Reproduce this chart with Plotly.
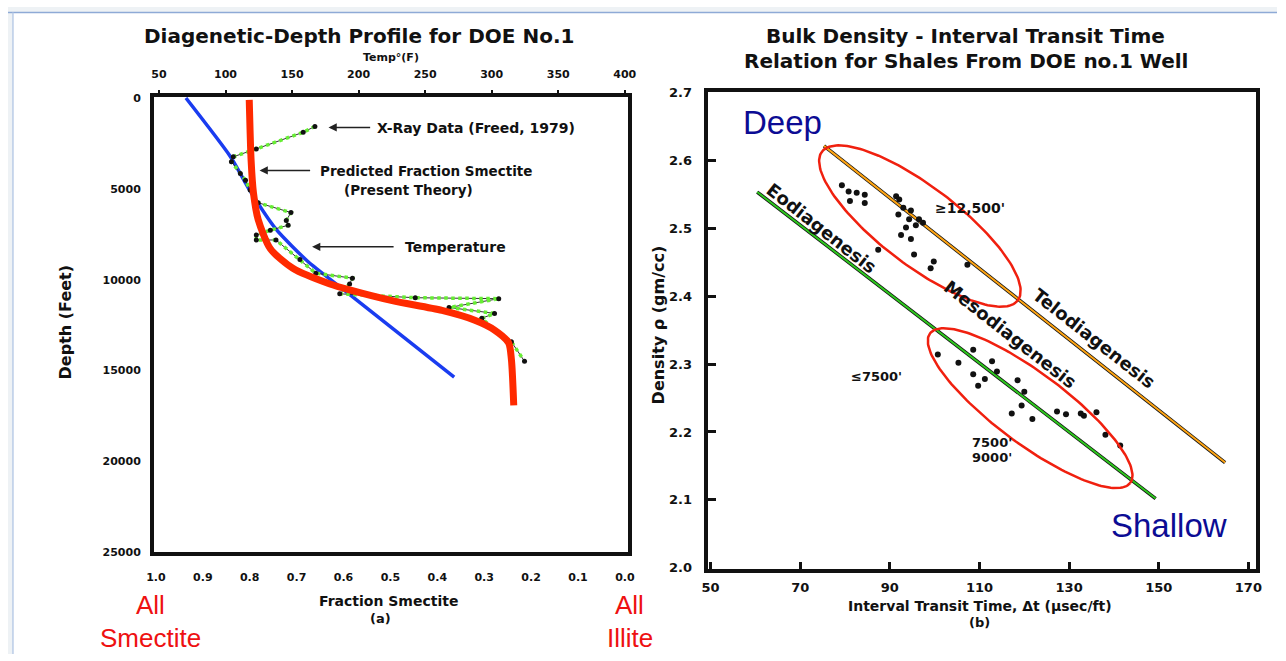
import numpy as np
import plotly.graph_objects as go

W, H = 1286, 661

# ---------------- Left panel data: Diagenetic-Depth profile ----------------
frac_ticks = [1.0, 0.9, 0.8, 0.7, 0.6, 0.5, 0.4, 0.3, 0.2, 0.1, 0.0]
frac_labels = ["1.0", "0.9", "0.8", "0.7", "0.6", "0.5", "0.4", "0.3", "0.2", "0.1", "0.0"]
temp_ticks = [50, 100, 150, 200, 250, 300, 350, 400]
depth_ticks = [0, 5000, 10000, 15000, 20000, 25000]

# Temperature profile (blue)
blue_frac = [0.936, 0.841, 0.799, 0.744, 0.676, 0.602, 0.364]
blue_depth = [0, 3233, 5119, 7220, 8998, 10507, 15356]

# Predicted fraction smectite (thick red)
red_frac = [0.801, 0.797, 0.792, 0.782, 0.756, 0.708, 0.629, 0.587, 0.496,
            0.390, 0.320, 0.278, 0.248, 0.242, 0.237]
red_depth = [100, 3448, 5226, 6681, 8298, 9375, 10237, 10560, 11153,
             11692, 12231, 12770, 13470, 14386, 16918]

# X-ray data (Freed, 1979) (green dotted)
xray_frac = [0.661, 0.686, 0.786, 0.835, 0.839, 0.820, 0.809, 0.799, 0.782, 0.712,
             0.722, 0.718, 0.756, 0.786, 0.786, 0.744, 0.693, 0.659, 0.581, 0.587,
             0.608, 0.447, 0.269, 0.375, 0.278, 0.305, 0.278, 0.242, 0.214]
xray_depth = [1563, 1886, 2802, 3233, 3502, 4149, 4526, 5065, 5765, 6304,
              6735, 7004, 7274, 7543, 7813, 7813, 8890, 9645, 9914, 10237,
              10776, 10992, 11045, 11530, 11854, 12123, 12770, 13416, 14494]

# ---------------- Right panel data: Bulk density vs transit time ----------------
itt_ticks = [50, 70, 90, 110, 130, 150, 170]
rho_ticks = [2.0, 2.1, 2.2, 2.3, 2.4, 2.5, 2.6, 2.7]

deep_t = [79.3, 80.8, 82.6, 84.4, 81.1, 84.4, 91.4, 92.1, 93.0, 94.7, 91.9, 94.3,
          96.5, 97.4, 93.6, 95.8, 92.5, 94.7, 87.4, 95.4, 99.8, 99.1, 107.3]
deep_rho = [2.563, 2.554, 2.552, 2.549, 2.540, 2.537, 2.547, 2.542, 2.530, 2.526,
            2.520, 2.513, 2.513, 2.508, 2.501, 2.504, 2.490, 2.484, 2.468, 2.461,
            2.451, 2.441, 2.446]

shallow_t = [100.7, 108.6, 105.3, 112.8, 113.9, 108.6, 111.2, 109.7, 118.5, 120.0,
             119.4, 117.2, 121.8, 127.3, 129.3, 132.6, 133.3, 136.1, 138.1, 141.4]
shallow_rho = [2.314, 2.321, 2.302, 2.304, 2.289, 2.285, 2.278, 2.268, 2.276, 2.259,
               2.239, 2.227, 2.219, 2.230, 2.226, 2.227, 2.224, 2.229, 2.196, 2.180]

telo_t = [75.3, 164.8]
telo_rho = [2.621, 2.155]
eo_t = [60.4, 149.3]
eo_rho = [2.553, 2.102]

# ---------------- Layout geometry ----------------
L_XD = [148 / W, 628 / W]
L_YD = [1 - 557 / H, 1 - 92 / H]
R_XD = [709 / W, 1265 / W]
R_YD = [1 - 574 / H, 1 - 87 / H]
R_XR = [49.34, 171.76]
R_YR = [1.9986, 2.7]
T_XR = [46.3, 402.2]


def px(x):
    return x / W


def py(y):
    return 1 - y / H


FONT = "DejaVu Sans"
BLACK = "#111111"

fig = go.Figure()

# invisible trace so that the top temperature axis is drawn
fig.add_trace(go.Scatter(x=[temp_ticks[0], temp_ticks[-1]], y=[0, 0], mode="markers",
                         marker=dict(opacity=0), xaxis="x2", yaxis="y", hoverinfo="skip"))

# Left panel traces
fig.add_trace(go.Scatter(x=blue_frac, y=blue_depth, mode="lines",
                         line=dict(color="#1a3cf0", width=3.5, shape="spline", smoothing=0.6),
                         xaxis="x", yaxis="y", hoverinfo="skip"))
fig.add_trace(go.Scatter(x=xray_frac, y=xray_depth, mode="lines",
                         line=dict(color="#333333", width=1),
                         xaxis="x", yaxis="y", hoverinfo="skip"))
fig.add_trace(go.Scatter(x=xray_frac, y=xray_depth, mode="lines+markers",
                         line=dict(color="#66ee33", width=3.5, dash="dot"),
                         marker=dict(color="#111111", size=5),
                         xaxis="x", yaxis="y", hoverinfo="skip"))
fig.add_trace(go.Scatter(x=red_frac, y=red_depth, mode="lines",
                         line=dict(color="#ff2a00", width=7, shape="spline", smoothing=0.7),
                         xaxis="x", yaxis="y", hoverinfo="skip"))

# Right panel traces
fig.add_trace(go.Scatter(x=eo_t, y=eo_rho, mode="lines", line=dict(color="#111111", width=3.5),
                         xaxis="x3", yaxis="y3", hoverinfo="skip"))
fig.add_trace(go.Scatter(x=eo_t, y=eo_rho, mode="lines", line=dict(color="#2ec81e", width=2),
                         xaxis="x3", yaxis="y3", hoverinfo="skip"))
fig.add_trace(go.Scatter(x=telo_t, y=telo_rho, mode="lines", line=dict(color="#111111", width=3.5),
                         xaxis="x3", yaxis="y3", hoverinfo="skip"))
fig.add_trace(go.Scatter(x=telo_t, y=telo_rho, mode="lines", line=dict(color="#ffa514", width=2),
                         xaxis="x3", yaxis="y3", hoverinfo="skip"))
fig.add_trace(go.Scatter(x=deep_t, y=deep_rho, mode="markers",
                         marker=dict(color="#111111", size=6),
                         xaxis="x3", yaxis="y3", hoverinfo="skip"))
fig.add_trace(go.Scatter(x=shallow_t, y=shallow_rho, mode="markers",
                         marker=dict(color="#111111", size=6),
                         xaxis="x3", yaxis="y3", hoverinfo="skip"))

# Ellipses (center in data units, semi-axes in pixels, tilt in degrees)
sx = (R_XD[1] - R_XD[0]) * W / (R_XR[1] - R_XR[0])
sy = (R_YD[1] - R_YD[0]) * H / (R_YR[1] - R_YR[0])
ellipses = [(96.7, 2.503, 125, 40, 37.5), (121.3, 2.235, 127, 36, 37.0)]
th = np.linspace(0, 2 * np.pi, 181)
for tc, rc, a, b, ang in ellipses:
    phi = np.radians(ang)
    dxp = a * np.cos(th) * np.cos(phi) - b * np.sin(th) * np.sin(phi)
    dyp = a * np.cos(th) * np.sin(phi) + b * np.sin(th) * np.cos(phi)
    fig.add_trace(go.Scatter(x=tc + dxp / sx, y=rc - dyp / sy, mode="lines",
                             line=dict(color="#f0200f", width=2.5),
                             xaxis="x3", yaxis="y3", hoverinfo="skip"))

tickfont_l = dict(family=FONT, size=11, color=BLACK, weight="bold")
tickfont_r = dict(family=FONT, size=13, color=BLACK, weight="bold")

fig.update_layout(
    width=W, height=H, margin=dict(l=0, r=0, t=0, b=0),
    paper_bgcolor="white", plot_bgcolor="white", showlegend=False,
    xaxis=dict(domain=L_XD, range=[1.004, -0.006], anchor="y",
               tickvals=frac_ticks, ticktext=frac_labels, tickfont=tickfont_l,
               ticks="outside", ticklen=12, tickcolor="rgba(0,0,0,0)",
               showline=True, linecolor=BLACK, linewidth=4, mirror=True,
               showgrid=False, zeroline=False),
    xaxis2=dict(range=T_XR, overlaying="x", side="top", anchor="y",
                tickvals=temp_ticks, tickfont=tickfont_l,
                ticks="outside", ticklen=6, tickwidth=1.5, tickcolor=BLACK,
                ticklabelstandoff=8,
                showline=False, showgrid=False, zeroline=False),
    yaxis=dict(domain=L_YD, range=[25000, -54], anchor="x",
               tickvals=depth_ticks, ticktext=[str(v) for v in depth_ticks],
               tickfont=tickfont_l, ticks="outside", ticklen=7, tickcolor="rgba(0,0,0,0)",
               showline=True, linecolor=BLACK, linewidth=4, mirror=True,
               showgrid=False, zeroline=False),
    xaxis3=dict(domain=R_XD, range=R_XR, anchor="y3",
                tickvals=itt_ticks, tickfont=tickfont_r,
                ticks="inside", ticklen=7, tickwidth=2.5, tickcolor=BLACK,
                ticklabelstandoff=4,
                showline=True, linecolor=BLACK, linewidth=4, mirror=True,
                showgrid=False, zeroline=False),
    yaxis3=dict(domain=R_YD, range=R_YR, anchor="x3",
                tickvals=rho_ticks, tickformat=".1f", tickfont=tickfont_r,
                ticks="inside", ticklen=8, tickwidth=2.5, tickcolor=BLACK,
                ticklabelstandoff=9,
                showline=True, linecolor=BLACK, linewidth=4, mirror=True,
                showgrid=False, zeroline=False),
)

ann = []


def txt(x, y, s, size, color=BLACK, weight="bold", angle=0, xanchor="center",
        xref="paper", yref="paper", family=FONT):
    ann.append(dict(x=x, y=y, xref=xref, yref=yref, text=s, showarrow=False,
                    xanchor=xanchor, yanchor="middle", textangle=angle,
                    font=dict(family=family, size=size, color=color, weight=weight)))


def arrow(x_head, y_head, x_tail, y_tail):
    ann.append(dict(x=x_head, y=y_head, ax=x_tail, ay=y_tail, xref="x", yref="y",
                    axref="x", ayref="y", text="", showarrow=True, arrowhead=2,
                    arrowsize=1.1, arrowwidth=1.5, arrowcolor="#222222"))


# Titles & axis labels (left panel)
txt(px(356), py(30), "Diagenetic-Depth Profile for DOE No.1", 20)
txt(px(388), py(52), "Temp°(F)", 11)
txt(px(58), py(322), "Depth (Feet)", 16, angle=-90)
txt(px(386), py(607), "Fraction Smectite", 14)
txt(px(377), py(625), "(a)", 13)

# Annotations inside left panel (data coordinates)
txt(0.532, 1670, "X-Ray Data (Freed, 1979)", 14, xanchor="left", xref="x", yref="y")
arrow(0.632, 1616, 0.540, 1616)
txt(0.655, 4041, "Predicted Fraction Smectite", 13.5, xanchor="left", xref="x", yref="y")
txt(0.462, 5065, "(Present Theory)", 13.5, xref="x", yref="y")
arrow(0.779, 3987, 0.668, 3987)
txt(0.474, 8190, "Temperature", 14, xanchor="left", xref="x", yref="y")
arrow(0.667, 8190, 0.490, 8190)

# Red end-member labels
RED = "#ee1111"
txt(px(144), py(611), "All", 26, color=RED, weight="normal", family="Liberation Sans")
txt(px(144), py(645), "Smectite", 26, color=RED, weight="normal", family="Liberation Sans")
txt(px(630), py(611), "All", 26, color=RED, weight="normal", family="Liberation Sans")
txt(px(630), py(645), "Illite", 26, color=RED, weight="normal", family="Liberation Sans")

# Right panel titles & axis labels
txt(px(970), py(30), "Bulk Density - Interval Transit Time", 20)
txt(px(971), py(55), "Relation for Shales From DOE no.1 Well", 20)
txt(px(659), py(325), "Density ρ (gm/cc)", 16, angle=-90)
txt(px(985), py(612), "Interval Transit Time, Δt (μsec/ft)", 14)
txt(px(985), py(629), "(b)", 13)

# Right panel in-plot labels (data coordinates)
NAVY = "#0c0c94"
txt(66.1, 2.655, "Deep", 33, color=NAVY, weight="normal", xref="x3", yref="y3", family="Liberation Sans")
txt(152.2, 2.062, "Shallow", 33, color=NAVY, weight="normal", xref="x3", yref="y3", family="Liberation Sans")
txt(74.9, 2.500, "Eodiagenesis", 18, angle=38, xref="x3", yref="y3")
txt(116.9, 2.343, "Mesodiagenesis", 18, angle=38, xref="x3", yref="y3")
txt(135.6, 2.337, "Telodiagenesis", 18, angle=38, xref="x3", yref="y3")
txt(107.9, 2.530, "≥12,500'", 14, xref="x3", yref="y3")
txt(87.0, 2.281, "≤7500'", 13, xref="x3", yref="y3")
txt(112.7, 2.184, "7500'", 13, xref="x3", yref="y3")
txt(112.7, 2.163, "9000'", 13, xref="x3", yref="y3")

fig.update_layout(annotations=ann)

# Slide frame decoration
fig.update_layout(shapes=[
    dict(type="rect", xref="paper", yref="paper", x0=0, x1=1, y0=py(5), y1=1,
         fillcolor="#eef2f5", line=dict(width=0), layer="below"),
    dict(type="line", xref="paper", yref="paper", x0=0, x1=1, y0=py(5.5), y1=py(5.5),
         line=dict(color="#8eaad6", width=1.5)),
    dict(type="rect", xref="paper", yref="paper", x0=0, x1=px(4), y0=0, y1=1,
         fillcolor="#eef2f5", line=dict(width=0), layer="below"),
    dict(type="line", xref="paper", yref="paper", x0=px(5), x1=px(5), y0=0, y1=py(5.5),
         line=dict(color="#b8cbe6", width=1.5)),
])

fig.write_html("out.html")
